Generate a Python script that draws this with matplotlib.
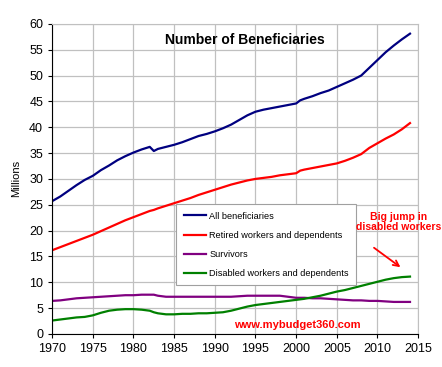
import numpy as np
import matplotlib
matplotlib.use("Agg")
import matplotlib.pyplot as plt

plt.rcParams['font.family'] = ['Liberation Sans', 'DejaVu Sans']

# values (millions)
years = [1970, 1971, 1972, 1973, 1974, 1975, 1976, 1977, 1978, 1979, 1980, 1981, 1982, 1982.5,
         1983, 1984, 1985, 1986, 1987, 1988, 1989, 1990, 1991, 1992, 1993, 1994, 1995, 1996,
         1997, 1998, 1999, 2000, 2000.5, 2001, 2002, 2003, 2004, 2005, 2006, 2007, 2008,
         2009, 2010, 2011, 2012, 2013, 2014]
all_ben = [25.7, 26.6, 27.7, 28.8, 29.8, 30.6, 31.7, 32.6, 33.6, 34.4, 35.1, 35.7, 36.2, 35.4,
           35.8, 36.2, 36.6, 37.1, 37.7, 38.3, 38.7, 39.2, 39.8, 40.5, 41.4, 42.3, 43.0, 43.4,
           43.7, 44.0, 44.3, 44.6, 45.2, 45.5, 46.0, 46.6, 47.1, 47.8, 48.5, 49.2, 50.0,
           51.5, 53.0, 54.5, 55.8, 57.0, 58.1]
retired = [16.2, 16.8, 17.4, 18.0, 18.6, 19.2, 19.9, 20.6, 21.3, 22.0, 22.6, 23.2, 23.8, 24.0,
           24.3, 24.8, 25.3, 25.8, 26.3, 26.9, 27.4, 27.9, 28.4, 28.9, 29.3, 29.7, 30.0, 30.2,
           30.4, 30.7, 30.9, 31.1, 31.6, 31.8, 32.1, 32.4, 32.7, 33.0, 33.5, 34.1, 34.8,
           36.0, 36.9, 37.8, 38.6, 39.6, 40.8]
survivors = [6.4, 6.5, 6.7, 6.9, 7.0, 7.1, 7.2, 7.3, 7.4, 7.5, 7.5, 7.6, 7.6, 7.6,
             7.4, 7.2, 7.2, 7.2, 7.2, 7.2, 7.2, 7.2, 7.2, 7.2, 7.3, 7.4, 7.4, 7.4,
             7.4, 7.4, 7.2, 7.0, 7.0, 7.0, 6.9, 6.9, 6.8, 6.7, 6.6, 6.5, 6.5,
             6.4, 6.4, 6.3, 6.2, 6.2, 6.2]
disabled = [2.6, 2.8, 3.0, 3.2, 3.3, 3.6, 4.1, 4.5, 4.7, 4.8, 4.8, 4.7, 4.5, 4.2,
            4.0, 3.8, 3.8, 3.9, 3.9, 4.0, 4.0, 4.1, 4.2, 4.5, 4.9, 5.3, 5.6, 5.8,
            6.0, 6.2, 6.4, 6.6, 6.7, 6.8, 7.1, 7.4, 7.8, 8.2, 8.5, 8.9, 9.3,
            9.7, 10.1, 10.5, 10.8, 11.0, 11.1]

labels = ["All beneficiaries", "Retired workers and dependents", "Survivors",
          "Disabled workers and dependents"]
colors = ["#000080", "#ff0000", "#800080", "#008000"]

fig = plt.figure(figsize=(4.42, 3.67), dpi=100)
ax = fig.add_axes([0.118, 0.090, 0.828, 0.845])

for vals, lab, c in zip([all_ben, retired, survivors, disabled], labels, colors):
    ax.plot(years, vals, color=c, lw=1.6, label=lab)

ax.set_xlim(1970, 2015)
ax.set_ylim(0, 60)
ax.set_xticks(range(1970, 2016, 5))
ax.set_yticks(range(0, 61, 5))
ax.grid(True, color="#c0c0c0", lw=0.9)
ax.set_axisbelow(True)
for s in ["top", "right"]:
    ax.spines[s].set_color("#c0c0c0")
ax.tick_params(labelsize=9, length=3, direction="out")
ax.set_ylabel("Millions", fontsize=8, labelpad=6)

ax.text(0.527, 0.948, "Number of Beneficiaries", transform=ax.transAxes, ha="center",
        va="center", fontsize=10, fontweight="bold")
ax.text(2000.2, 1.75, "www.mybudget360.com", color="#ff0000", fontsize=8,
        fontweight="bold", ha="center", va="center")
ax.text(2012.55, 21.7, "Big jump in\ndisabled workers", color="#ff0000", fontsize=7.5,
        fontweight="bold", ha="center", va="center", linespacing=1.05, clip_on=False,
        zorder=6)
ax.annotate("", xy=(2013.1, 12.6), xytext=(2009.3, 17.0),
            arrowprops=dict(arrowstyle="->", color="#ff0000", lw=1.3))

leg = ax.legend(loc="upper left", bbox_to_anchor=(0.339, 0.418), fontsize=6.6,
                frameon=True, fancybox=False, edgecolor="#a0a0a0", framealpha=1,
                handlelength=2.4, handletextpad=0.4, labelspacing=1.1, borderpad=0.8,
                borderaxespad=0)
leg.get_frame().set_linewidth(0.8)

fig.savefig("out.png", dpi=100)
